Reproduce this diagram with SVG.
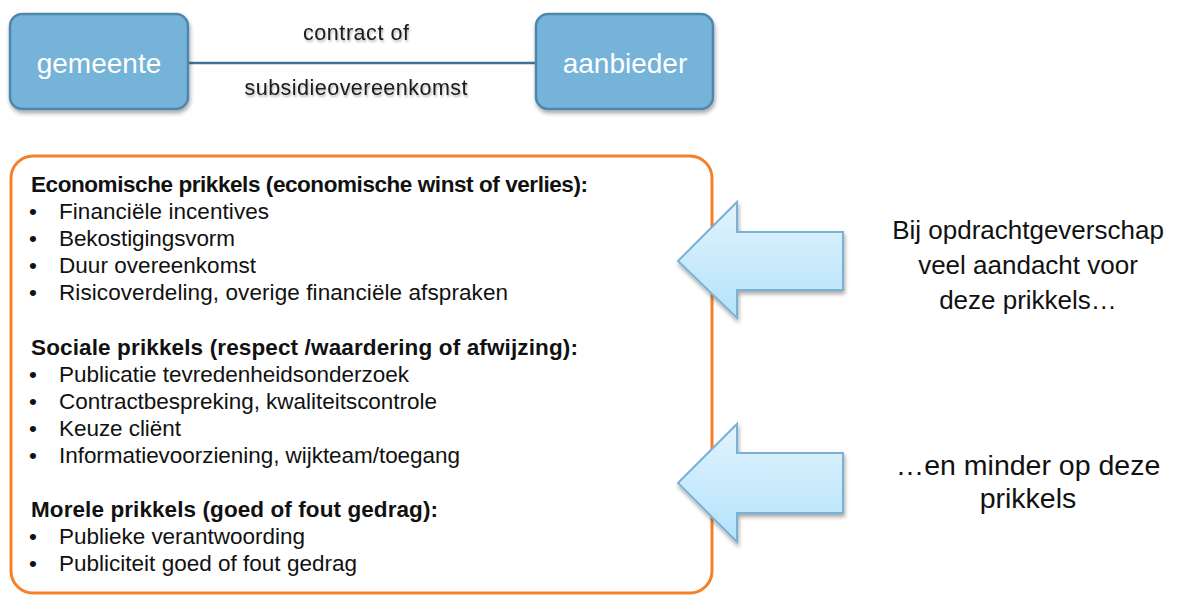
<svg xmlns="http://www.w3.org/2000/svg" width="1195" height="596" viewBox="0 0 1195 596">
<defs>
<linearGradient id="arrowGrad" x1="0" y1="0" x2="0" y2="1">
<stop offset="0" stop-color="#e2f3fd"/>
<stop offset="1" stop-color="#b3e2fb"/>
</linearGradient>
<filter id="shadow" x="-10%" y="-10%" width="130%" height="140%">
<feGaussianBlur in="SourceAlpha" stdDeviation="2"/>
<feOffset dx="1" dy="3"/>
<feComponentTransfer><feFuncA type="linear" slope="0.35"/></feComponentTransfer>
<feMerge><feMergeNode/><feMergeNode in="SourceGraphic"/></feMerge>
</filter>
<filter id="tshadow" x="-10%" y="-30%" width="120%" height="180%">
<feGaussianBlur in="SourceAlpha" stdDeviation="1.2"/>
<feOffset dx="1" dy="2"/>
<feComponentTransfer><feFuncA type="linear" slope="0.3"/></feComponentTransfer>
<feMerge><feMergeNode/><feMergeNode in="SourceGraphic"/></feMerge>
</filter>
</defs>
<style>
.node{fill:#74b3d9;stroke:#4f86ad;stroke-width:2.5}
.nodetxt{font-family:"Liberation Sans",Arial,sans-serif;font-size:28px;fill:#ffffff;text-anchor:middle}
.lbl{font-family:"Liberation Sans",Arial,sans-serif;font-size:21.5px;fill:#1a1a1a;text-anchor:middle}
.head{font-family:"Liberation Sans",Arial,sans-serif;font-size:22.5px;font-weight:bold;fill:#111}
.item{font-family:"Liberation Sans",Arial,sans-serif;font-size:22.5px;fill:#111}
.side{font-family:"Liberation Sans",Arial,sans-serif;font-size:26px;fill:#111;text-anchor:middle}
.side2{font-family:"Liberation Sans",Arial,sans-serif;font-size:28.5px;fill:#111;text-anchor:middle}
.arrow{fill:url(#arrowGrad);stroke:#79b2d5;stroke-width:2}
</style>
<rect width="1195" height="596" fill="#ffffff"/>
<g id="connectors">
<line x1="188" y1="63" x2="536" y2="63" stroke="#3f7396" stroke-width="2.5"/>
<text class="lbl" x="356" y="40" textLength="106" filter="url(#tshadow)">contract of</text>
<text class="lbl" x="356" y="95" textLength="223" filter="url(#tshadow)">subsidieovereenkomst</text>
</g>
<g id="gemeente">
<rect class="node" x="10" y="14" width="178" height="95" rx="12" filter="url(#shadow)"/>
<text class="nodetxt" x="99" y="73">gemeente</text>
</g>
<g id="aanbieder">
<rect class="node" x="536" y="14" width="177" height="95" rx="12" filter="url(#shadow)"/>
<text class="nodetxt" x="625" y="73">aanbieder</text>
</g>
<g id="prikkels">
<rect x="11" y="156" width="701" height="437" rx="22" fill="none" stroke="#f5802a" stroke-width="3"/>
<text class="head" x="31" y="192" textLength="557">Economische prikkels (economische winst of verlies):</text>
<text class="item" x="29" y="219">•</text><text class="item" x="59" y="219" textLength="210">Financiële incentives</text>
<text class="item" x="29" y="246">•</text><text class="item" x="59" y="246" textLength="176">Bekostigingsvorm</text>
<text class="item" x="29" y="273">•</text><text class="item" x="59" y="273" textLength="197">Duur overeenkomst</text>
<text class="item" x="29" y="300">•</text><text class="item" x="59" y="300" textLength="449">Risicoverdeling, overige financiële afspraken</text>
<text class="head" x="31" y="355" textLength="547">Sociale prikkels (respect /waardering of afwijzing):</text>
<text class="item" x="29" y="382">•</text><text class="item" x="59" y="382" textLength="350">Publicatie tevredenheidsonderzoek</text>
<text class="item" x="29" y="409">•</text><text class="item" x="59" y="409" textLength="378">Contractbespreking, kwaliteitscontrole</text>
<text class="item" x="29" y="436">•</text><text class="item" x="59" y="436" textLength="122">Keuze cliënt</text>
<text class="item" x="29" y="463">•</text><text class="item" x="59" y="463" textLength="401">Informatievoorziening, wijkteam/toegang</text>
<text class="head" x="31" y="517" textLength="407">Morele prikkels (goed of fout gedrag):</text>
<text class="item" x="29" y="544">•</text><text class="item" x="59" y="544" textLength="246">Publieke verantwoording</text>
<text class="item" x="29" y="571">•</text><text class="item" x="59" y="571" textLength="298">Publiciteit goed of fout gedrag</text>
</g>
<g id="arrow1">
<polygon class="arrow" points="678,261 737,202 737,232 843,232 843,290 737,290 737,318" filter="url(#shadow)"/>
</g>
<g id="arrow2">
<polygon class="arrow" points="678,483 737,424 737,453 843,453 843,513 737,513 737,542" filter="url(#shadow)"/>
</g>
<g id="text1">
<text class="side" x="1028" y="239">Bij opdrachtgeverschap</text>
<text class="side" x="1028" y="274">veel aandacht voor</text>
<text class="side" x="1028" y="309">deze prikkels…</text>
</g>
<g id="text2">
<text class="side2" x="1028" y="475">…en minder op deze</text>
<text class="side2" x="1028" y="508">prikkels</text>
</g>
</svg>
